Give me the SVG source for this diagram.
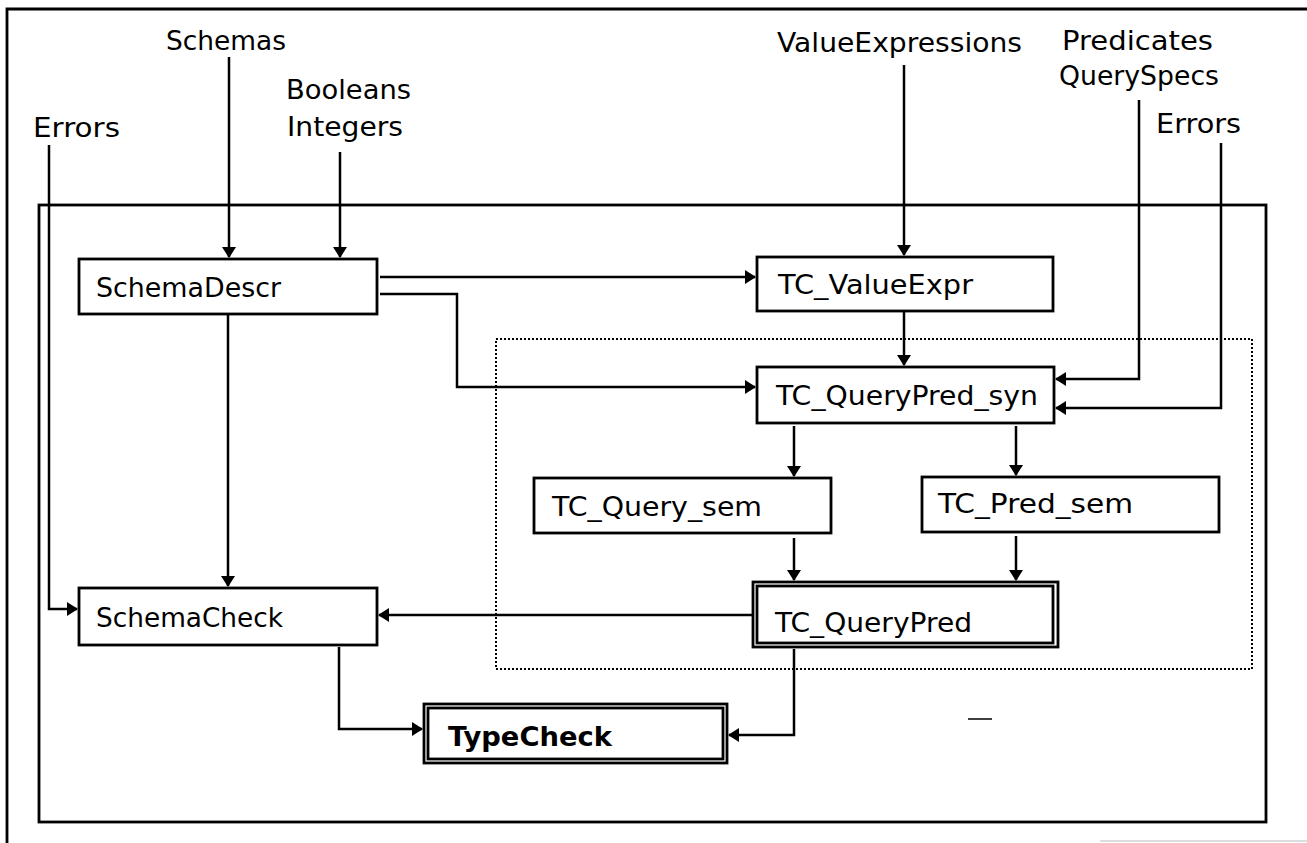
<svg xmlns="http://www.w3.org/2000/svg" width="1307" height="843" viewBox="0 0 1307 843">
<style>
text{font-family:"DejaVu Sans","Liberation Sans",sans-serif;font-size:26px;fill:#000}
.b{fill:#fff;stroke:#000;stroke-width:2.8}
.c{fill:none;stroke:#000;stroke-width:2.5}
.f{fill:none;stroke:#000;stroke-width:2.8}
.d{fill:none;stroke:#000;stroke-width:2;stroke-dasharray:2 2}
.bold{font-weight:bold}
</style>
<defs>
<marker id="ah" markerWidth="11" markerHeight="14" refX="10" refY="7" orient="auto" markerUnits="userSpaceOnUse">
<path d="M0,0 L11,7 L0,14 Z" fill="#000"/>
</marker>
</defs>
<rect width="1307" height="843" fill="#fff"/>
<g id="frames">
<path class="f" d="M7,843 V9 H1307" stroke-width="3"/>
<rect class="f" x="39" y="205" width="1227" height="617"/>
<rect class="d" x="496" y="339" width="756" height="330"/>
<line x1="968" y1="719" x2="992" y2="719" stroke="#000" stroke-width="1.5"/>
<line x1="1100" y1="841" x2="1307" y2="841" stroke="#bbb" stroke-width="1"/>
</g>
<g id="labels">
<text x="166" y="50" textLength="120" lengthAdjust="spacingAndGlyphs">Schemas</text>
<text x="286" y="99" textLength="125" lengthAdjust="spacingAndGlyphs">Booleans</text>
<text x="287" y="136" textLength="116" lengthAdjust="spacingAndGlyphs">Integers</text>
<text x="33" y="137" textLength="87" lengthAdjust="spacingAndGlyphs">Errors</text>
<text x="777" y="52" textLength="245" lengthAdjust="spacingAndGlyphs">ValueExpressions</text>
<text x="1062" y="50" textLength="151" lengthAdjust="spacingAndGlyphs">Predicates</text>
<text x="1059" y="85" textLength="160" lengthAdjust="spacingAndGlyphs">QuerySpecs</text>
<text x="1156" y="133" textLength="85" lengthAdjust="spacingAndGlyphs">Errors</text>
</g>
<g id="SchemaDescr">
<rect class="b" x="79" y="259" width="298" height="55"/>
<text x="96" y="297" textLength="185" lengthAdjust="spacingAndGlyphs">SchemaDescr</text>
</g>
<g id="TC_ValueExpr">
<rect class="b" x="757" y="257" width="296" height="54"/>
<text x="778" y="294" textLength="195" lengthAdjust="spacingAndGlyphs">TC_ValueExpr</text>
</g>
<g id="TC_QueryPred_syn">
<rect class="b" x="757" y="367" width="297" height="56"/>
<text x="776" y="405" textLength="262" lengthAdjust="spacingAndGlyphs">TC_QueryPred_syn</text>
</g>
<g id="TC_Query_sem">
<rect class="b" x="534" y="478" width="297" height="55"/>
<text x="552" y="516" textLength="210" lengthAdjust="spacingAndGlyphs">TC_Query_sem</text>
</g>
<g id="TC_Pred_sem">
<rect class="b" x="922" y="477" width="297" height="55"/>
<text x="938" y="513" textLength="195" lengthAdjust="spacingAndGlyphs">TC_Pred_sem</text>
</g>
<g id="SchemaCheck">
<rect class="b" x="79" y="588" width="298" height="57"/>
<text x="96" y="627" textLength="187" lengthAdjust="spacingAndGlyphs">SchemaCheck</text>
</g>
<g id="TC_QueryPred">
<rect class="b" x="753" y="582" width="305" height="65"/>
<rect class="b" x="757" y="586" width="296" height="57"/>
<text x="775" y="632" textLength="197" lengthAdjust="spacingAndGlyphs">TC_QueryPred</text>
</g>
<g id="TypeCheck">
<rect class="b" x="424" y="704" width="303" height="59"/>
<rect class="b" x="428" y="708" width="295" height="51"/>
<text class="bold" x="448" y="746" textLength="164" lengthAdjust="spacingAndGlyphs">TypeCheck</text>
</g>
<g id="connectors">
<path class="c" d="M229,57 V257" marker-end="url(#ah)"/>
<path class="c" d="M340,152 V257" marker-end="url(#ah)"/>
<path class="c" d="M49,145 V609 H77" marker-end="url(#ah)"/>
<path class="c" d="M904,65 V255" marker-end="url(#ah)"/>
<path class="c" d="M380,277 H755" marker-end="url(#ah)"/>
<path class="c" d="M380,294 H457 V387 H755" marker-end="url(#ah)"/>
<path class="c" d="M904,312 V365" marker-end="url(#ah)"/>
<path class="c" d="M1139,100 V379 H1056" marker-end="url(#ah)"/>
<path class="c" d="M1221,143 V408 H1056" marker-end="url(#ah)"/>
<path class="c" d="M794,426 V476" marker-end="url(#ah)"/>
<path class="c" d="M1016,426 V475" marker-end="url(#ah)"/>
<path class="c" d="M794,538 V580" marker-end="url(#ah)"/>
<path class="c" d="M1016,536 V580" marker-end="url(#ah)"/>
<path class="c" d="M228,314 V586" marker-end="url(#ah)"/>
<path class="c" d="M752,615 H379" marker-end="url(#ah)"/>
<path class="c" d="M339,647 V729 H422" marker-end="url(#ah)"/>
<path class="c" d="M794,649 V735 H729" marker-end="url(#ah)"/>
</g>
</svg>
